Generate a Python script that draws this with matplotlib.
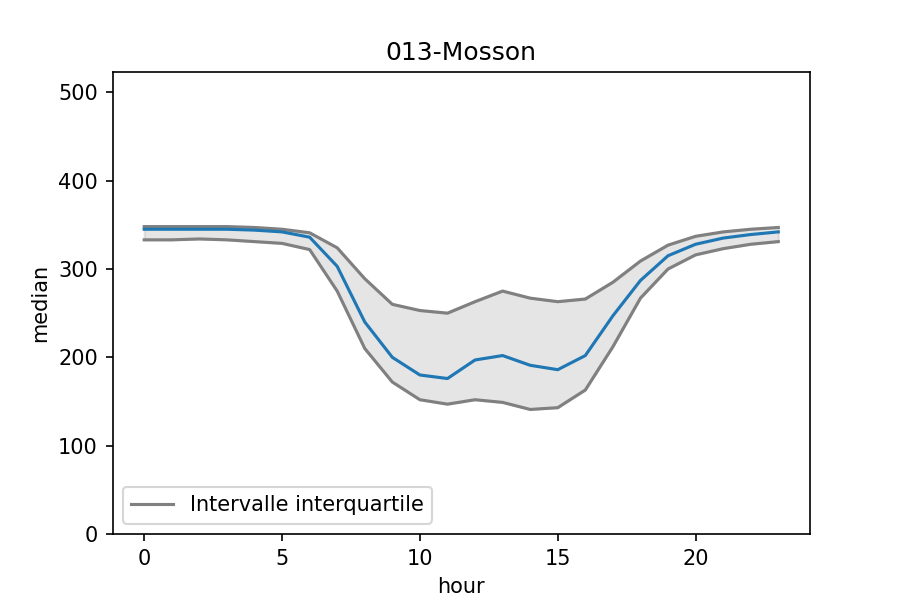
import numpy as np
import matplotlib
matplotlib.use('Agg')
import matplotlib.pyplot as plt

hours = list(range(24))
median = [345, 345, 345, 345, 344, 342, 336, 303, 240, 200, 180, 176,
          197, 202, 191, 186, 202, 247, 287, 315, 328, 335, 339, 342]
q75 = [348, 348, 348, 348, 347, 345, 341, 324, 289, 260, 253, 250,
       263, 275, 267, 263, 266, 285, 309, 327, 337, 342, 345, 347]
q25 = [333, 333, 334, 333, 331, 329, 322, 275, 210, 172, 152, 147,
       152, 149, 141, 143, 163, 212, 267, 300, 316, 323, 328, 331]

fig, ax = plt.subplots(figsize=(6, 4), dpi=150)
ax.fill_between(hours, q25, q75, color='grey', alpha=0.2)
ax.plot(hours, q75, color='grey', lw=1.5, label='Intervalle interquartile')
ax.plot(hours, q25, color='grey', lw=1.5)
ax.plot(hours, median, color='#1f77b4', lw=1.5)
ax.set_ylim(0, 523)
ax.set_xlim(-1.15, 24.15)
ax.set_xlabel('hour')
ax.set_ylabel('median')
ax.set_title('013-Mosson')
ax.legend(loc='lower left')
plt.savefig('out.png')
